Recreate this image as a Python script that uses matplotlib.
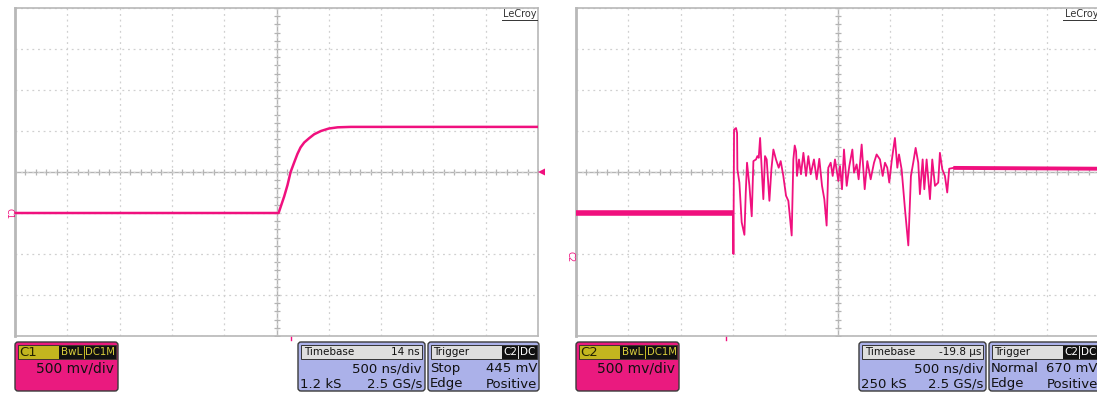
import numpy as np
import matplotlib
matplotlib.use("Agg")
import matplotlib.pyplot as plt
from matplotlib.patches import FancyBboxPatch, Rectangle, Polygon

# ---------------- data (time in µs, voltage in V; 500 ns/div, 500 mV/div) -------------
c1_time = [-2.5, 0.02, 0.073, 0.105, 0.135, 0.17, 0.2, 0.23, 0.265, 0.31, 0.36,
           0.425, 0.5, 0.585, 0.71, 2.5]
c1_volt = [-0.5, -0.5, -0.3, -0.16, 0.0, 0.12, 0.22, 0.3, 0.36, 0.41, 0.46,
           0.5, 0.53, 0.545, 0.55, 0.55]

c2_time = [-2.5, -0.998, -0.995, -0.989, -0.970, -0.960, -0.957, -0.938, -0.916, -0.890,
           -0.877, -0.865, -0.842, -0.820, -0.804, -0.779, -0.766, -0.753, -0.740, -0.721,
           -0.709, -0.693, -0.677, -0.651, -0.632, -0.613, -0.588, -0.562, -0.543, -0.518,
           -0.492, -0.470, -0.438, -0.422, -0.409, -0.396, -0.387, -0.368, -0.349, -0.326,
           -0.301, -0.279, -0.256, -0.225, -0.199, -0.174, -0.148, -0.126, -0.104, -0.088,
           -0.065, -0.046, -0.024, 0.008, 0.024, 0.043, 0.062, 0.088, 0.113, 0.142,
           0.158, 0.183, 0.202, 0.231, 0.260, 0.285, 0.317, 0.349, 0.374, 0.406,
           0.432, 0.454, 0.476, 0.495, 0.518, 0.549, 0.572, 0.588, 0.613, 0.645,
           0.677, 0.702, 0.724, 0.747, 0.772, 0.788, 0.814, 0.830, 0.852, 0.884,
           0.906, 0.932, 0.963, 0.979, 1.002, 1.027, 1.049, 1.068, 1.107, 2.5]
c2_volt = [-0.5, -0.5, -1.0, 0.516, 0.536, 0.476, 0.032, -0.129, -0.613, -0.766,
           -0.25, 0.113, -0.169, -0.54, 0.133, 0.153, 0.194, 0.173, 0.415, -0.048,
           -0.331, 0.194, 0.153, -0.351, 0.032, 0.274, 0.153, 0.052, 0.133, -0.048,
           -0.29, -0.351, -0.774, 0.153, 0.323, 0.254, -0.048, 0.153, -0.028, 0.234,
           -0.048, 0.194, -0.028, 0.153, -0.089, 0.161, -0.169, -0.331, -0.653, 0.052,
           0.113, -0.048, 0.153, -0.109, 0.073, -0.21, 0.274, -0.169, 0.073, 0.274,
           -0.008, 0.093, -0.089, 0.335, -0.21, 0.133, -0.089, 0.113, 0.214, 0.153,
           -0.048, 0.113, 0.052, -0.129, 0.133, 0.415, 0.052, 0.214, 0.032, -0.452,
           -0.895, -0.048, 0.113, 0.294, 0.113, -0.27, 0.153, -0.21, 0.153, -0.331,
           0.153, -0.169, -0.129, 0.234, 0.032, -0.048, -0.25, 0.04, 0.05, 0.04]

panel_info = [
    dict(ch="C1", vdiv="500 mv/div", tb_off="14 ns", tdiv="500 ns/div", samples="1.2 kS",
         rate="2.5 GS/s", mode="Stop", level="445 mV", kind="Edge", slope="Positive"),
    dict(ch="C2", vdiv="500 mv/div", tb_off="-19.8 µs", tdiv="500 ns/div", samples="250 kS",
         rate="2.5 GS/s", mode="Normal", level="670 mV", kind="Edge", slope="Positive"),
]

# ---------------- styling ----------------
W, H = 1097, 394
PINK = "#f0107e"
BOXPINK = "#ea1a7f"
OLIVE = "#c3b61f"
LAV = "#abb1e9"
GRIDC = "#d0d0d0"
AXC = "#b4b4b4"

fig = plt.figure(figsize=(W / 100, H / 100), dpi=100)
plt.rcParams['font.family'] = ['DejaVu Sans']


def add_panel(x0):
    ax = fig.add_axes([x0 / W, (H - 336) / H, 523 / W, 328 / H])
    ax.set_xlim(-2.5, 2.5)
    ax.set_ylim(-2.0, 2.0)
    ax.set_xticks(np.arange(-2.5, 2.51, 0.5))
    ax.set_yticks(np.arange(-2.0, 2.01, 0.5))
    ax.tick_params(length=0, labelbottom=False, labelleft=False)
    ax.grid(True, color=GRIDC, ls=(0, (1.5, 3)), lw=0.9)
    for s in ax.spines.values():
        s.set_color("#b8b8b8")
        s.set_linewidth(1.2)
    ax.spines["left"].set_linewidth(2.0)
    ax.axhline(0, color=AXC, lw=1.0, zorder=1)
    ax.axvline(0, color=AXC, lw=1.0, zorder=1)
    mt = np.arange(-2.5, 2.51, 0.1)
    ax.plot(mt, np.zeros_like(mt), ls="none", marker="|", ms=4.5, mew=0.9, color=AXC, zorder=1)
    mv = np.arange(-2.0, 2.01, 0.1)
    ax.plot(np.zeros_like(mv), mv, ls="none", marker="_", ms=4.5, mew=0.9, color=AXC, zorder=1)
    return ax


ax1 = add_panel(15)
ax1.plot(c1_time, c1_volt, color=PINK, lw=1.8, zorder=3)

ax2 = add_panel(576)
ax2.plot(c2_time, c2_volt, color=PINK, lw=1.3, zorder=3)
ax2.plot(c2_time[:2], c2_volt[:2], color=PINK, lw=4.0, zorder=3, solid_capstyle="butt")
ax2.plot(c2_time[-2:], c2_volt[-2:], color=PINK, lw=2.8, zorder=3, solid_capstyle="butt")

# ---------------- overlay in pixel coordinates ----------------
ov = fig.add_axes([0, 0, 1, 1], zorder=10)
ov.set_xlim(0, W)
ov.set_ylim(H, 0)
ov.axis("off")


def rbox(x0, y0, x1, y1, fc, ec="#3a3a3a", lw=1.0, r=3):
    ov.add_patch(FancyBboxPatch((x0, y0), x1 - x0, y1 - y0,
                                boxstyle=f"round,pad=0,rounding_size={r}",
                                fc=fc, ec=ec, lw=lw, clip_on=False))


def rect(x0, y0, x1, y1, fc, ec="none", lw=0.8):
    ov.add_patch(Rectangle((x0, y0), x1 - x0, y1 - y0, fc=fc, ec=ec, lw=lw, clip_on=False))


def txt(x, y, s, ha="left", fs=9.5, color="#111111"):
    ov.text(x, y, s, ha=ha, va="center", fontsize=fs, color=color, clip_on=False)


Y0, Y1 = 342, 391
HY0, HY1 = 345, 359
HC = (HY0 + HY1) / 2
L2, L3 = 368.5, 384

for i, info in enumerate(panel_info):
    dx = 561 * i
    # LeCroy logo
    txt(537 + dx, 14, "LeCroy", ha="right", fs=7, color="#333333")
    ov.plot([502 + dx, 537 + dx], [19.5, 19.5], color="#333333", lw=0.7)

    # channel marker on left edge
    ch_y = 214 if i == 0 else 257
    ov.text(9 + dx, ch_y, info["ch"], rotation=270, ha="center", va="center",
            fontsize=6, color=PINK)
    # small trigger time markers below grid
    mx = 291 if i == 0 else 726
    ov.plot([mx, mx], [337, 339.5], color=PINK, lw=1.0)

    # channel box
    rbox(15 + dx, Y0, 118 + dx, Y1, BOXPINK)
    rect(18 + dx, HY0, 116 + dx, HY1, OLIVE, ec="#2a2a2a", lw=0.6)
    txt(19 + dx, HC, info["ch"], fs=9.5, color="#222200")
    rect(59 + dx, HY0 + 0.5, 84 + dx, HY1 - 0.5, "#111111")
    txt(71.5 + dx, HC, "BwL", ha="center", fs=7.5, color="#d9cd3c")
    rect(85 + dx, HY0 + 0.5, 116 + dx, HY1 - 0.5, "#111111")
    txt(100.5 + dx, HC, "DC1M", ha="center", fs=7.3, color="#d9cd3c")
    txt(114 + dx, L2, info["vdiv"], ha="right", fs=10)

    # timebase box
    rbox(298 + dx, Y0, 425 + dx, Y1, LAV)
    rect(301 + dx, HY0, 422 + dx, HY1, "#dedede", ec="#333333", lw=0.7)
    txt(304 + dx, HC, "Timebase", fs=7.5)
    txt(420 + dx, HC, info["tb_off"], ha="right", fs=7.5)
    txt(422 + dx, L2, info["tdiv"], ha="right", fs=9.5)
    txt(300 + dx, L3, info["samples"], fs=9.5)
    txt(422 + dx, L3, info["rate"], ha="right", fs=9.5)

    # trigger box
    rbox(428 + dx, Y0, 539 + dx, Y1, LAV)
    rect(431 + dx, HY0, 537 + dx, HY1, "#dedede", ec="#333333", lw=0.7)
    txt(433 + dx, HC, "Trigger", fs=7.5)
    rect(502 + dx, HY0 + 0.5, 518 + dx, HY1 - 0.5, "#111111")
    txt(510 + dx, HC, "C2", ha="center", fs=7.5, color="white")
    rect(519 + dx, HY0 + 0.5, 537 + dx, HY1 - 0.5, "#111111")
    txt(528 + dx, HC, "DC", ha="center", fs=7.5, color="white")
    txt(430 + dx, L2, info["mode"], fs=9.5)
    txt(537 + dx, L2, info["level"], ha="right", fs=9.5)
    txt(430 + dx, L3, info["kind"], fs=9.5)
    txt(537 + dx, L3, info["slope"], ha="right", fs=9.5)

# trigger level arrow on left panel
ov.add_patch(Polygon([[538, 172], [545, 168.5], [545, 175.5]], closed=True,
                     fc=PINK, ec="none", clip_on=False))

fig.savefig("out.png", dpi=100)
